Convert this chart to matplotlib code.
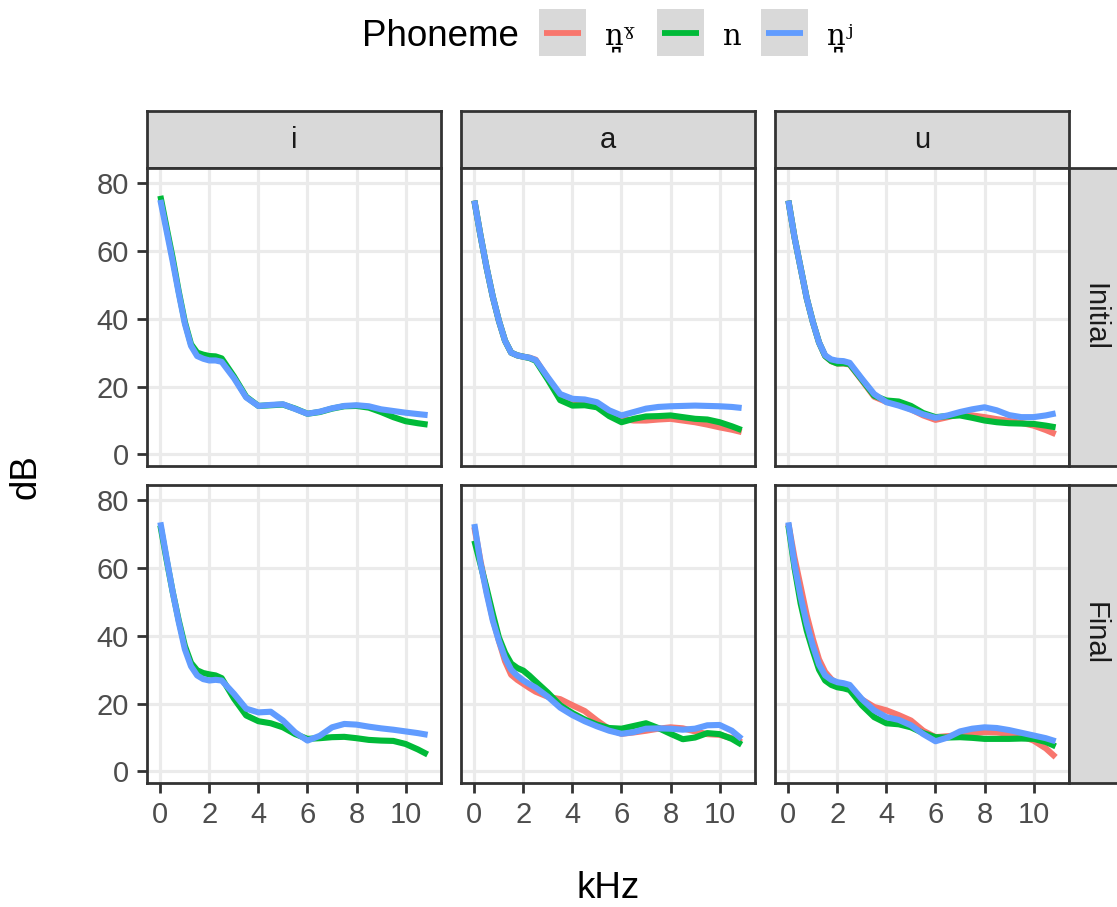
import matplotlib.pyplot as plt
from matplotlib.patches import Rectangle
from matplotlib.lines import Line2D

# frequência (kHz) onde as curvas foram lidas
khz = [0, 0.25, 0.5, 0.75, 1.0, 1.25, 1.5, 1.75, 2, 2.25, 2.5, 3, 3.5, 4, 4.5, 5,
       5.5, 6, 6.5, 7, 7.5, 8, 8.5, 9, 9.5, 10, 10.5, 10.9]

vogais = ["i", "a", "u"]
posicoes = ["Initial", "Final"]
fonemas = ["n\u032aˠ", "n", "n\u032aʲ"]
cores = ["#F8766D", "#00BA38", "#619CFF"]

# Initial
i_ini_n = [76.2, 67, 58, 48, 39, 32.5, 30, 29.4, 29, 28.9, 28.3, 23, 17, 14.3, 14.5, 14.7,
           13.5, 12, 12.5, 13.5, 14.2, 14.3, 13.8, 12.5, 11, 9.8, 9.2, 8.8]
i_ini_nj = [75, 66, 57, 47.5, 38.5, 32, 29, 28.2, 27.7, 27.7, 27.3, 22.5, 16.8, 14.3, 14.6, 14.8,
            13.4, 12, 12.6, 13.6, 14.3, 14.5, 14.2, 13.3, 12.8, 12.3, 11.9, 11.6]

a_ini_ng = [74.8, 64.5, 55, 46.5, 39.4, 33.5, 30, 29.2, 28.8, 28.5, 27.9, 22.4, 16.5, 15, 15, 14.3,
            11.8, 10.5, 10, 10, 10.3, 10.5, 10, 9.5, 8.8, 8, 7.3, 6.6]
a_ini_n = [74.8, 64.5, 55, 46.5, 39.4, 33.5, 30, 29.2, 28.8, 28.4, 27.6, 22, 16, 14.4, 14.5, 13.9,
           11.3, 9.5, 10.5, 11.2, 11.3, 11.5, 11, 10.5, 10.3, 9.5, 8.3, 7.2]
a_ini_nj = [74.8, 64.5, 55, 46.5, 39.4, 33.5, 30, 29.2, 28.8, 28.5, 27.8, 22.7, 17.8, 16.4, 16.2, 15.4,
            13, 11.5, 12.5, 13.5, 14, 14.2, 14.3, 14.4, 14.3, 14.2, 14, 13.7]

u_ini_ng = [74.8, 64, 55, 46, 39, 33, 29, 27.5, 26.8, 26.8, 26.5, 21.8, 17, 15.5, 14.8, 13.3,
            11.5, 10.2, 11, 11.9, 11.5, 11, 10.4, 9.9, 9.3, 8.5, 7.2, 6]
u_ini_n = [74.8, 64, 55, 46, 39, 33, 29, 27.5, 26.8, 26.9, 26.6, 22, 17.3, 15.9, 15.6, 14.3,
           12.2, 11, 11.3, 11.5, 10.8, 10, 9.5, 9.2, 9.1, 9, 8.5, 8]
u_ini_nj = [74.8, 64, 55, 46, 39, 33, 29.2, 28, 27.6, 27.5, 27, 22.3, 17.8, 15.4, 14.4, 13.2,
            11.8, 10.8, 11.5, 12.5, 13.3, 13.9, 13, 11.6, 11, 11, 11.5, 12.1]

# Final
i_fin_n = [72.5, 62.5, 53, 44.5, 37, 32, 29.8, 29, 28.6, 28.3, 27.5, 21.5, 16.5, 14.8, 14.2, 13,
           11, 9.6, 9.8, 10.1, 10.2, 9.8, 9.3, 9.1, 9, 8.1, 6.5, 5]
i_fin_nj = [73.4, 63, 53, 44, 36, 31, 28.3, 27.2, 26.8, 27, 26.8, 22.9, 18.5, 17.4, 17.6, 15,
            11.5, 9.1, 10.5, 13, 14, 13.8, 13.2, 12.7, 12.3, 11.8, 11.3, 10.8]

a_fin_ng = [72, 62, 53, 45, 38.5, 32.5, 28.5, 27, 25.8, 24.6, 23.5, 22, 21.3, 19.5, 17.8, 15,
            12.5, 11.1, 11.5, 12, 12.6, 13, 12.7, 11.8, 11, 10.8, 9.8, 8.6]
a_fin_n = [68, 61, 54, 46.5, 39.5, 35, 31.8, 30.5, 29.7, 28.2, 26.5, 23.2, 19.5, 17.2, 15.3, 13.8,
           12.8, 12.6, 13.4, 14.2, 12.8, 11.1, 9.5, 10, 11.3, 11, 9.6, 7.9]
a_fin_nj = [72.9, 61.5, 52.5, 44.5, 38.5, 33.5, 30, 28.2, 26.8, 25.7, 24.7, 22, 18.8, 16.6, 14.8, 13.3,
            12, 11.1, 11.6, 12.6, 12.7, 12.6, 12.3, 12.6, 13.6, 13.7, 12, 9.6]

u_fin_ng = [73, 63, 54.5, 46, 39, 33, 29.3, 27.2, 25.8, 25, 24.5, 21.2, 19, 18, 16.6, 15,
            12, 10.1, 10.4, 10.7, 11.2, 11.6, 11.5, 11.1, 10.4, 9.1, 6.8, 4.2]
u_fin_n = [72.5, 60, 49.5, 41.5, 35.5, 30, 26.8, 25.5, 24.8, 24.5, 24, 19.5, 16, 14.2, 13.9, 13,
           11.3, 10.1, 10, 10.1, 9.9, 9.6, 9.6, 9.6, 9.7, 9.6, 8.7, 7.4]
u_fin_nj = [73.4, 61, 51.5, 43.5, 37, 31.5, 28.3, 27, 26.3, 26, 25.5, 21.3, 18, 16, 15.2, 13.6,
            11, 8.9, 10, 11.8, 12.6, 13, 12.8, 12.2, 11.4, 10.6, 9.8, 8.9]

# (posição, vogal) -> curvas na ordem de fonemas; None quando o fonema não ocorre
curvas = {
    ("Initial", "i"): [None, i_ini_n, i_ini_nj],
    ("Initial", "a"): [a_ini_ng, a_ini_n, a_ini_nj],
    ("Initial", "u"): [u_ini_ng, u_ini_n, u_ini_nj],
    ("Final", "i"): [None, i_fin_n, i_fin_nj],
    ("Final", "a"): [a_fin_ng, a_fin_n, a_fin_nj],
    ("Final", "u"): [u_fin_ng, u_fin_n, u_fin_nj],
}

W, H = 1117, 907
SANS = ["Liberation Sans", "DejaVu Sans"]
SERIF = ["DejaVu Serif"]
BORDA = "#333333"


def caixa(x0, y0, x1, y1):
    # converte pixels (origem no topo) em fração da figura
    return [x0 / W, 1 - y1 / H, (x1 - x0) / W, (y1 - y0) / H]


def faixa(fig, ret, texto, rot=0):
    ax = fig.add_axes(caixa(*ret))
    ax.set_facecolor("#D9D9D9")
    ax.set_xticks([])
    ax.set_yticks([])
    for s in ax.spines.values():
        s.set_color(BORDA)
        s.set_linewidth(2.0)
    ax.text(0.5, 0.5, texto, transform=ax.transAxes, ha="center", va="center",
            rotation=rot, fontsize=21, color="#1A1A1A", family=SANS)
    return ax


fig = plt.figure(figsize=(W / 100, H / 100), dpi=100)

esquerdas = [147, 461, 775]
linhas = [(168, 466), (485, 783)]

for c, vogal in enumerate(vogais):
    x0 = esquerdas[c]
    faixa(fig, (x0, 111, x0 + 294, 168), vogal)
    for r, pos in enumerate(posicoes):
        y0, y1 = linhas[r]
        ax = fig.add_axes(caixa(x0, y0, x0 + 294, y1))
        ax.set_xlim(-0.545, 11.445)
        ax.set_ylim(-3.4, 84.4)
        ax.set_xticks([0, 2, 4, 6, 8, 10])
        ax.set_yticks([0, 20, 40, 60, 80])
        ax.grid(True, color="#EBEBEB", linewidth=2.3)
        ax.set_axisbelow(True)
        for s in ax.spines.values():
            s.set_color(BORDA)
            s.set_linewidth(2.0)
        ax.tick_params(direction="out", length=7, width=2, color=BORDA,
                       labelsize=21, labelcolor="#4D4D4D", pad=6)
        for lab in ax.get_xticklabels() + ax.get_yticklabels():
            lab.set_family(SANS)
        if c > 0:
            ax.tick_params(axis="y", left=False, labelleft=False)
        if r == 0:
            ax.tick_params(axis="x", bottom=False, labelbottom=False)

        for serie, cor in zip(curvas[(pos, vogal)], cores):
            if serie is None:
                continue
            ax.plot(khz, serie, color=cor, linewidth=4.4,
                    solid_capstyle="butt", solid_joinstyle="round")

        if c == 2:
            faixa(fig, (1069, y0, 1120, y1), pos, rot=-90)

fig.text(26 / W, 1 - 477 / H, "dB", rotation=90, ha="center", va="center",
         fontsize=26.5, family=SANS)
fig.text(608 / W, 1 - 888 / H, "kHz", ha="center", va="center",
         fontsize=26.5, family=SANS)

# legenda no topo, desenhada à mão para ter o fundo cinza nas chaves
fig.text(362 / W, 1 - 46.5 / H, "Phoneme", ha="left", va="baseline",
         fontsize=26.5, family=SANS)
chaves = [539, 657, 761]
for xk, cor, nome in zip(chaves, cores, fonemas):
    fig.add_artist(Rectangle((xk / W, 1 - 56 / H), 47 / W, 47 / H,
                             transform=fig.transFigure, facecolor="#D9D9D9",
                             edgecolor="none"))
    fig.add_artist(Line2D([(xk + 5) / W, (xk + 42) / W], [1 - 32.5 / H] * 2,
                          transform=fig.transFigure, color=cor, linewidth=4.2,
                          solid_capstyle="butt"))
    fig.text((xk + 66) / W, 1 - 45 / H, nome, ha="left", va="baseline",
             fontsize=21, family=SERIF)

fig.savefig("out.png", dpi=100)
